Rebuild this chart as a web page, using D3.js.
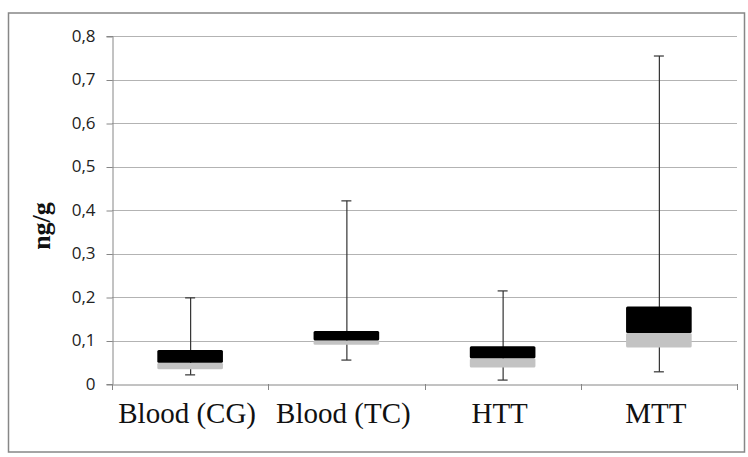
<!DOCTYPE html>
<html>
<head>
<meta charset="utf-8">
<script src="https://cdn.jsdelivr.net/npm/d3@7"></script>
<style>
  body { margin: 0; background: #fff; }
</style>
</head>
<body>
<div id="chart"></div>
<script>
// box plot values (ng/g)
const categories = ["Blood (CG)", "Blood (TC)", "HTT", "MTT"];
const whiskerMin = [0.021, 0.055, 0.009, 0.028];
const q1 = [0.034, 0.09, 0.038, 0.084];
const median = [0.049, 0.1, 0.059, 0.117];
const q3 = [0.078, 0.122, 0.087, 0.178];
const whiskerMax = [0.198, 0.421, 0.214, 0.754];
const yTicks = [0, 0.1, 0.2, 0.3, 0.4, 0.5, 0.6, 0.7, 0.8];

const width = 748;
const height = 457;
const margin = { top: 36, right: 11, bottom: 73, left: 112 };

const svg = d3
  .select("#chart")
  .append("svg")
  .attr("width", width)
  .attr("height", height);

// outer frame
svg
  .append("rect")
  .attr("x", 8.5)
  .attr("y", 13)
  .attr("width", 736)
  .attr("height", 439)
  .attr("fill", "none")
  .attr("stroke", "#878787")
  .attr("stroke-width", 1.5);

const x = d3
  .scaleBand()
  .domain(categories)
  .range([margin.left, width - margin.right]);

const y = d3
  .scaleLinear()
  .domain([0, 0.8])
  .range([height - margin.bottom, margin.top]);

const fmt = d3.formatLocale({ decimal: ",", thousands: ".", grouping: [3], currency: ["", ""] }).format(".1f");

// gridlines
svg
  .append("g")
  .selectAll("line")
  .data(yTicks.slice(1))
  .join("line")
  .attr("x1", margin.left)
  .attr("x2", width - margin.right)
  .attr("y1", (d) => Math.round(y(d)) + 0.5)
  .attr("y2", (d) => Math.round(y(d)) + 0.5)
  .attr("stroke", "#b3b3b3")
  .attr("stroke-width", 1);

// y axis
const yAxis = svg
  .append("g")
  .attr("transform", `translate(${margin.left + 0.5},0)`)
  .call(
    d3
      .axisLeft(y)
      .tickValues(yTicks)
      .tickSize(6)
      .tickPadding(11)
      .tickFormat((d) => (d === 0 ? "0" : fmt(d)))
  );
yAxis.selectAll("path,line").attr("stroke", "#868686");
yAxis.selectAll("line").attr("transform", "translate(0,0.5)");
yAxis
  .selectAll("text")
  .attr("fill", "#222")
  .style("font-family", "'Open Sans', sans-serif")
  .style("font-size", "17px");

// x axis
const xAxis = svg
  .append("g")
  .attr("transform", `translate(0,${Math.round(y(0)) + 0.5})`)
  .call(d3.axisBottom(x).tickSize(0).tickFormat(""));
xAxis.select("path").attr("stroke", "#868686");

// category boundary ticks
svg
  .append("g")
  .selectAll("line")
  .data(categories.concat(["end"]))
  .join("line")
  .attr("x1", (d, i) => Math.round(margin.left + i * x.step()) + 0.5)
  .attr("x2", (d, i) => Math.round(margin.left + i * x.step()) + 0.5)
  .attr("y1", y(0))
  .attr("y2", y(0) + 6)
  .attr("stroke", "#868686");

// category labels
svg
  .append("g")
  .selectAll("text")
  .data(categories)
  .join("text")
  .attr("x", (d) => x(d) + x.bandwidth() / 2 - 3)
  .attr("y", 423)
  .attr("text-anchor", "middle")
  .style("font-family", "'Liberation Serif', 'Times New Roman', serif")
  .style("font-size", "29px")
  .attr("fill", "#111")
  .text((d) => d);

// y axis title
svg
  .append("text")
  .attr("transform", "translate(50,226) rotate(-90)")
  .attr("text-anchor", "middle")
  .style("font-family", "'Liberation Serif', 'Times New Roman', serif")
  .style("font-size", "26px")
  .style("font-weight", "bold")
  .attr("fill", "#111")
  .text("ng/g");

// boxes
const boxW = x.bandwidth() * 0.42;
const capW = 10;
const boxes = svg
  .append("g")
  .selectAll("g")
  .data(categories)
  .join("g")
  .attr("transform", (d) => `translate(${x(d) + x.bandwidth() / 2},0)`);

// whiskers
boxes
  .append("line")
  .attr("x1", 0.5)
  .attr("x2", 0.5)
  .attr("y1", (d, i) => y(whiskerMin[i]))
  .attr("y2", (d, i) => y(whiskerMax[i]))
  .attr("stroke", "#333")
  .attr("stroke-width", 1.2);
boxes
  .append("line")
  .attr("x1", -capW / 2)
  .attr("x2", capW / 2)
  .attr("y1", (d, i) => y(whiskerMax[i]))
  .attr("y2", (d, i) => y(whiskerMax[i]))
  .attr("stroke", "#333")
  .attr("stroke-width", 1.2);
boxes
  .append("line")
  .attr("x1", -capW / 2)
  .attr("x2", capW / 2)
  .attr("y1", (d, i) => y(whiskerMin[i]))
  .attr("y2", (d, i) => y(whiskerMin[i]))
  .attr("stroke", "#333")
  .attr("stroke-width", 1.2);

// lower box (Q1 - median)
boxes
  .append("rect")
  .attr("x", -boxW / 2)
  .attr("width", boxW)
  .attr("y", (d, i) => y(median[i]))
  .attr("height", (d, i) => y(q1[i]) - y(median[i]))
  .attr("rx", 1.5)
  .attr("fill", "#c3c3c3");

// upper box (median - Q3)
boxes
  .append("rect")
  .attr("x", -boxW / 2)
  .attr("width", boxW)
  .attr("y", (d, i) => y(q3[i]))
  .attr("height", (d, i) => y(median[i]) - y(q3[i]))
  .attr("rx", 1.5)
  .attr("fill", "#000");
</script>
</body>
</html>
